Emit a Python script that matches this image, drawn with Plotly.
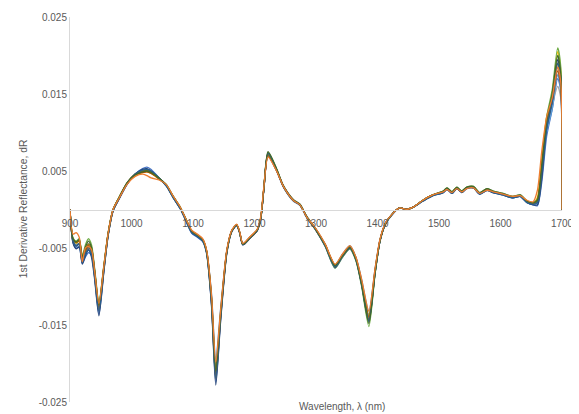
import plotly.graph_objects as go

# Wavelength (nm)
wavelength = [900, 905, 910, 915, 920, 925, 930, 935, 940, 947,
              955, 962, 970, 980, 993, 1006, 1018, 1025, 1032, 1046,
              1057, 1068, 1080, 1090, 1098, 1107, 1116, 1122, 1130, 1137,
              1145, 1155, 1163, 1171, 1176, 1181, 1193, 1204, 1210, 1215,
              1222, 1236, 1247, 1263, 1274, 1285, 1300, 1315, 1331, 1343,
              1355, 1365, 1374, 1386, 1396, 1404, 1413, 1425, 1436, 1447,
              1458, 1474, 1490, 1507, 1513, 1521, 1529, 1537, 1545, 1556,
              1566, 1578, 1588, 1604, 1620, 1632, 1643, 1653, 1660, 1667,
              1675, 1684, 1693, 1698, 1700]

# 1st derivative reflectance values, in units of 1e-3 dR
s_blue = [0, -4.3, -5.0, -4.8, -7.0, -6.2, -5.6, -6.0, -8.8, -13.6,
          -8.0, -3.4, -0.2, 1.4, 3.3, 4.6, 5.3, 5.5, 5.2, 4.0,
          3.0, 1.5, 0.0, -1.8, -3.1, -3.6, -4.2, -5.7, -12.2, -22.4,
          -14.2, -5.6, -2.9, -2.1, -3.1, -4.6, -3.7, -2.8, -1.3, 2.4,
          7.0, 5.0, 2.9, 1.1, 0.5, -1.1, -2.7, -4.8, -7.6, -6.2,
          -5.1, -6.6, -9.8, -14.6, -8.3, -4.1, -1.9, -0.6, 0.2, 0.0,
          0.3, 1.1, 1.8, 2.2, 2.6, 2.1, 2.7, 2.2, 2.7, 2.8,
          2.0, 2.5, 2.2, 1.9, 1.5, 1.7, 0.9, 0.6, 0.5, 3.5,
          9.5, 13.0, 17.0, 15.5, 0]
s_gray = [0, -3.8, -4.2, -4.0, -6.3, -5.2, -4.4, -5.0, -8.0, -12.4,
          -7.5, -3.2, -0.1, 1.6, 3.5, 4.5, 4.9, 5.0, 4.8, 3.9,
          3.1, 1.6, 0.1, -1.6, -2.9, -3.4, -4.0, -5.3, -11.2, -20.4,
          -13.2, -5.3, -2.7, -2.0, -3.0, -4.4, -3.6, -2.7, -1.2, 2.5,
          7.0, 5.1, 3.1, 1.3, 0.7, -0.9, -2.5, -4.5, -7.2, -5.9,
          -4.8, -6.3, -9.2, -13.6, -7.9, -4.0, -1.8, -0.5, 0.2, 0.0,
          0.3, 1.2, 1.9, 2.3, 2.7, 2.2, 2.8, 2.3, 2.8, 2.9,
          2.1, 2.6, 2.3, 2.0, 1.6, 1.8, 1.0, 0.8, 1.0, 5.0,
          10.5, 13.5, 16.0, 14.5, 0]
s_yellow = [0, -3.9, -4.4, -4.1, -6.5, -5.6, -4.9, -5.6, -8.4, -12.9,
            -7.7, -3.2, -0.1, 1.6, 3.4, 4.4, 4.8, 4.9, 4.7, 3.9,
            3.1, 1.6, 0.1, -1.5, -2.8, -3.3, -3.9, -5.4, -11.8, -21.8,
            -13.8, -5.5, -2.8, -2.0, -3.0, -4.5, -3.6, -2.7, -1.1, 2.7,
            7.3, 5.2, 3.0, 1.2, 0.6, -1.0, -2.6, -4.6, -7.3, -6.0,
            -4.9, -6.4, -9.5, -14.2, -8.1, -4.0, -1.8, -0.5, 0.2, 0.0,
            0.3, 1.2, 1.9, 2.3, 2.7, 2.2, 2.8, 2.3, 2.8, 2.9,
            2.1, 2.6, 2.3, 2.0, 1.6, 1.8, 1.1, 0.8, 1.6, 6.5,
            12.0, 15.0, 20.5, 18.0, 0]
s_lightblue = [0, -4.1, -4.6, -4.4, -6.6, -5.5, -4.8, -5.5, -8.2, -12.6,
               -7.6, -3.2, -0.1, 1.5, 3.4, 4.5, 5.0, 5.1, 4.9, 4.0,
               3.1, 1.6, 0.1, -1.6, -2.9, -3.4, -4.0, -5.3, -10.8, -19.4,
               -12.8, -5.3, -2.8, -2.0, -3.0, -4.5, -3.6, -2.7, -1.2, 2.5,
               7.1, 5.1, 3.0, 1.2, 0.6, -1.0, -2.6, -4.6, -7.2, -5.8,
               -4.7, -6.2, -9.0, -13.2, -7.7, -3.9, -1.8, -0.5, 0.2, 0.0,
               0.3, 1.2, 1.9, 2.3, 2.7, 2.2, 2.8, 2.3, 2.8, 2.9,
               2.1, 2.6, 2.3, 2.0, 1.6, 1.8, 1.0, 0.7, 0.8, 4.5,
               10.0, 13.0, 17.5, 15.5, 0]
s_green = [0, -3.7, -4.1, -3.8, -6.0, -4.6, -3.8, -4.6, -7.6, -12.0,
           -7.3, -3.0, 0.0, 1.6, 3.4, 4.5, 4.9, 5.0, 4.8, 4.0,
           3.2, 1.7, 0.2, -1.5, -2.8, -3.3, -3.9, -5.4, -11.6, -21.2,
           -13.6, -5.5, -2.8, -2.0, -3.0, -4.5, -3.6, -2.7, -1.2, 2.6,
           7.4, 5.2, 3.0, 1.2, 0.6, -1.0, -2.7, -4.8, -7.6, -6.2,
           -5.1, -6.7, -9.9, -15.2, -8.4, -4.1, -1.9, -0.5, 0.2, 0.0,
           0.3, 1.2, 1.9, 2.4, 2.8, 2.3, 2.9, 2.4, 2.9, 3.0,
           2.2, 2.7, 2.4, 2.1, 1.7, 1.9, 1.1, 0.9, 1.4, 6.0,
           12.0, 15.5, 21.0, 18.5, 0]
s_darkblue = [0, -4.4, -5.1, -4.9, -7.1, -6.0, -5.2, -6.2, -9.0, -13.8,
              -8.1, -3.4, -0.2, 1.4, 3.3, 4.6, 5.2, 5.3, 5.0, 4.0,
              3.1, 1.5, 0.0, -1.7, -3.0, -3.5, -4.1, -5.6, -12.4, -22.8,
              -14.4, -5.7, -2.9, -2.1, -3.1, -4.6, -3.7, -2.8, -1.3, 2.4,
              7.3, 5.1, 3.0, 1.2, 0.6, -1.0, -2.7, -4.7, -7.5, -6.1,
              -5.0, -6.5, -9.6, -14.3, -8.2, -4.1, -1.9, -0.5, 0.2, 0.0,
              0.3, 1.1, 1.8, 2.2, 2.6, 2.1, 2.7, 2.2, 2.7, 2.8,
              2.0, 2.5, 2.2, 1.9, 1.5, 1.7, 0.9, 0.6, 0.6, 4.0,
              10.5, 14.0, 19.5, 17.0, 0]
s_darkorange = [0, -4.0, -4.3, -4.1, -6.6, -5.4, -4.7, -5.3, -8.1, -12.7,
                -7.6, -3.2, -0.1, 1.5, 3.4, 4.5, 4.8, 4.9, 4.7, 3.9,
                3.1, 1.6, 0.1, -1.6, -2.9, -3.4, -4.0, -5.4, -11.6, -21.4,
                -13.7, -5.4, -2.8, -2.0, -3.0, -4.5, -3.6, -2.7, -1.2, 2.5,
                7.0, 5.0, 3.0, 1.2, 0.6, -1.0, -2.6, -4.6, -7.3, -6.0,
                -4.9, -6.4, -9.4, -14.0, -8.0, -4.0, -1.8, -0.5, 0.2, 0.0,
                0.3, 1.2, 1.9, 2.3, 2.7, 2.2, 2.8, 2.3, 2.8, 2.9,
                2.1, 2.6, 2.3, 2.0, 1.6, 1.8, 1.0, 0.8, 1.2, 5.5,
                11.0, 14.0, 18.0, 16.0, 0]
s_darkgray = [0, -4.2, -4.7, -4.4, -6.8, -5.7, -5.0, -5.6, -8.5, -13.1,
              -7.8, -3.3, -0.1, 1.5, 3.4, 4.5, 5.0, 5.1, 4.9, 3.9,
              3.1, 1.6, 0.1, -1.6, -2.9, -3.4, -4.0, -5.5, -11.9, -22.0,
              -14.0, -5.5, -2.8, -2.0, -3.0, -4.5, -3.6, -2.7, -1.2, 2.5,
              7.2, 5.1, 3.0, 1.2, 0.6, -1.0, -2.7, -4.7, -7.4, -6.0,
              -4.9, -6.5, -9.6, -14.4, -8.2, -4.1, -1.8, -0.5, 0.2, 0.0,
              0.3, 1.2, 1.9, 2.3, 2.7, 2.2, 2.8, 2.3, 2.8, 2.9,
              2.1, 2.6, 2.3, 2.0, 1.6, 1.8, 1.0, 0.8, 1.0, 5.0,
              11.0, 14.5, 18.5, 16.5, 0]
s_darkyellow = [0, -3.9, -4.3, -4.0, -6.4, -5.2, -4.5, -5.1, -8.0, -12.5,
                -7.5, -3.1, 0.0, 1.6, 3.5, 4.6, 5.0, 5.0, 4.8, 3.9,
                3.1, 1.6, 0.1, -1.6, -2.9, -3.4, -4.0, -5.3, -11.3, -20.8,
                -13.3, -5.4, -2.8, -2.0, -3.0, -4.5, -3.6, -2.7, -1.2, 2.5,
                7.1, 5.1, 3.0, 1.2, 0.6, -1.0, -2.6, -4.6, -7.2, -5.9,
                -4.8, -6.3, -9.3, -13.8, -7.9, -4.0, -1.8, -0.5, 0.2, 0.0,
                0.3, 1.2, 1.9, 2.3, 2.7, 2.2, 2.8, 2.3, 2.8, 2.9,
                2.1, 2.6, 2.3, 2.0, 1.6, 1.8, 1.0, 0.8, 1.3, 5.8,
                11.5, 14.5, 19.0, 17.0, 0]
s_steelblue = [0, -4.1, -4.8, -4.5, -6.9, -5.8, -5.3, -5.8, -8.6, -13.2,
               -7.9, -3.3, -0.1, 1.5, 3.4, 4.6, 5.1, 5.2, 5.0, 4.0,
               3.0, 1.5, 0.0, -1.7, -3.0, -3.5, -4.1, -5.5, -12.0, -21.9,
               -13.9, -5.5, -2.8, -2.0, -3.0, -4.5, -3.6, -2.7, -1.2, 2.6,
               7.3, 5.2, 3.0, 1.2, 0.6, -1.0, -2.6, -4.7, -7.4, -6.0,
               -4.9, -6.5, -9.6, -14.5, -8.2, -4.1, -1.8, -0.5, 0.2, 0.0,
               0.3, 1.1, 1.8, 2.2, 2.7, 2.1, 2.7, 2.3, 2.8, 2.8,
               2.0, 2.5, 2.2, 1.9, 1.5, 1.7, 0.9, 0.7, 0.9, 4.8,
               10.5, 14.0, 19.0, 17.0, 0]
s_darkgreen = [0, -3.8, -4.2, -3.9, -6.2, -4.9, -4.1, -4.9, -7.8, -12.3,
               -7.4, -3.1, 0.0, 1.6, 3.5, 4.5, 4.9, 5.0, 4.8, 4.0,
               3.2, 1.7, 0.2, -1.5, -2.8, -3.3, -3.9, -5.4, -11.4, -21.0,
               -13.5, -5.4, -2.8, -2.0, -3.0, -4.5, -3.6, -2.7, -1.2, 2.6,
               7.5, 5.3, 3.1, 1.3, 0.7, -0.9, -2.6, -4.6, -7.3, -6.0,
               -4.9, -6.5, -9.6, -14.8, -8.3, -4.1, -1.8, -0.5, 0.2, 0.0,
               0.3, 1.2, 1.9, 2.4, 2.8, 2.3, 2.9, 2.4, 2.9, 3.0,
               2.2, 2.7, 2.4, 2.1, 1.7, 1.9, 1.1, 0.9, 1.2, 5.6,
               11.5, 15.0, 20.0, 17.5, 0]
s_orange = [0, -3.2, -3.0, -3.6, -6.8, -5.0, -4.8, -5.2, -8.0, -12.2,
            -7.4, -3.1, 0.0, 1.5, 3.3, 4.3, 4.6, 4.4, 4.1, 3.8,
            3.2, 1.7, 0.2, -1.5, -2.7, -3.2, -3.8, -5.2, -11.0, -19.8,
            -13.0, -5.2, -2.7, -1.9, -2.9, -4.4, -3.5, -2.6, -1.0, 2.8,
            6.8, 5.0, 3.0, 1.2, 0.6, -1.0, -2.5, -4.5, -7.1, -5.8,
            -4.7, -6.2, -9.0, -13.2, -7.7, -3.9, -1.7, -0.5, 0.2, 0.0,
            0.3, 1.2, 1.9, 2.3, 2.6, 2.2, 2.7, 2.3, 2.7, 2.8,
            2.1, 2.5, 2.3, 2.0, 1.7, 1.8, 1.2, 1.0, 2.5, 7.5,
            12.0, 14.5, 18.5, 16.5, 0]

series = [
    ("S1", s_blue, "#4472C4"),
    ("S2", s_gray, "#A5A5A5"),
    ("S3", s_yellow, "#FFC000"),
    ("S4", s_lightblue, "#5B9BD5"),
    ("S5", s_green, "#70AD47"),
    ("S6", s_darkblue, "#264478"),
    ("S7", s_darkorange, "#9E480E"),
    ("S8", s_darkgray, "#636363"),
    ("S9", s_darkyellow, "#997300"),
    ("S10", s_steelblue, "#255E91"),
    ("S11", s_darkgreen, "#43682B"),
    ("S12", s_orange, "#ED7D31"),
]

y_ticks = [-0.025, -0.015, -0.005, 0.005, 0.015, 0.025]
y_ticktext = ["-0.025", "-0.015", "-0.005", "0.005", "0.015", "0.025"]
x_ticks = [900, 1000, 1100, 1200, 1300, 1400, 1500, 1600, 1700]

FONT = "Liberation Sans, Arial, sans-serif"
GRAY = "#595959"

fig = go.Figure()
for name, vals, color in series:
    fig.add_trace(go.Scatter(
        x=wavelength, y=[v / 1000 for v in vals], name=name, mode="lines",
        line=dict(color=color, width=1.3, shape="spline", smoothing=0.7),
        showlegend=False,
    ))

# The page body adds an 8px offset, so the figure is sized 8px smaller.
fig.update_layout(
    width=571, height=406,
    margin=dict(l=62, r=17, t=9, b=12),
    paper_bgcolor="white", plot_bgcolor="white",
    font=dict(family=FONT, size=10, color=GRAY),
    xaxis=dict(
        range=[900, 1700], tickvals=x_ticks, anchor="free", position=0.5,
        showline=True, linecolor="#D9D9D9", linewidth=1,
        showgrid=False, zeroline=False, ticks="", automargin=False,
        ticklabelstandoff=4,
        tickfont=dict(size=10, color=GRAY),
    ),
    yaxis=dict(
        range=[-0.025, 0.025], tickvals=y_ticks, ticktext=y_ticktext,
        showline=True, linecolor="#D9D9D9", linewidth=1,
        showgrid=False, zeroline=False, ticks="", automargin=False,
        tickfont=dict(size=10, color=GRAY),
    ),
    annotations=[
        dict(text="1st Derivative Reflectance, dR", textangle=-90,
             xref="paper", yref="paper", x=-0.0955, y=0.501,
             xanchor="center", yanchor="middle", showarrow=False,
             font=dict(size=10.3, color=GRAY, family=FONT)),
        dict(text="Wavelength, λ (nm)",
             xref="paper", yref="paper", x=0.553, y=-0.012,
             xanchor="center", yanchor="middle", showarrow=False,
             font=dict(size=10, color=GRAY, family=FONT)),
    ],
)

fig.write_html("out.html")
